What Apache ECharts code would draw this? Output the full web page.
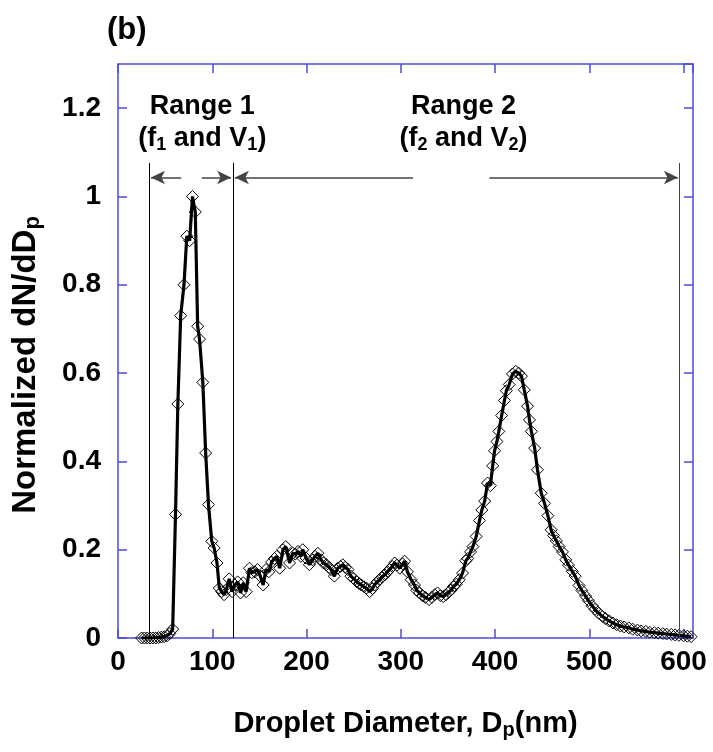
<!DOCTYPE html>
<html>
<head>
<meta charset="utf-8">
<script src="https://cdn.jsdelivr.net/npm/echarts@6/dist/echarts.min.js"></script>
<style>html,body{margin:0;padding:0;background:#fff;}#c{width:713px;height:752px;}</style>
</head>
<body>
<div id="c"></div>
<script>
// ---- data ----
const diameters = [25,28,31,34,37,40,43,46,49,52,55,58,61,63.5,66.5,70,73,76,79,82,84.5,86.5,90,93,96,99.5,102,105,107.5,110,112.5,115,118,121,124,127,130,133,136,139.5,142,145,148,151,154,157,160,163,166,168.5,171.5,175,178,182,185.5,188,191,194,196,199.5,203,206.5,209,212,215.5,218,221,224,226,229.5,233,236,238.5,241,244,247,250,253,256,258,261,263.5,267,270,272,275,277.5,280,283,286,288,291,293.5,296,299,302,304,307,311,314.5,317,320,323,326,330,333,336,339,342,345,348,351,353.5,356,359,362,365.5,369,371,374,376.5,380,383.5,386,389,392,395,397.5,399.5,402,404,407,410,412,415,418.5,422,425,428,431,434.5,436.5,438.5,442,445,449,452.5,456,459.5,462,465,468,471.5,475,478,482,485,489,492,496,499,503,506,510,514,517,521,525,529,533,537,542,546,551,555,560,564,569,573,578,582,587,591,595,600,604,608];
const dNdD = [0,0,0,0,0,0,0.001,0.002,0.003,0.005,0.01,0.02,0.28,0.53,0.73,0.80,0.91,0.90,1.0,0.965,0.706,0.677,0.579,0.419,0.302,0.219,0.204,0.17,0.113,0.105,0.098,0.11,0.134,0.105,0.12,0.127,0.102,0.125,0.105,0.158,0.148,0.15,0.155,0.14,0.12,0.155,0.15,0.172,0.18,0.185,0.158,0.2,0.207,0.17,0.192,0.19,0.196,0.185,0.2,0.181,0.166,0.177,0.185,0.192,0.177,0.17,0.166,0.16,0.155,0.14,0.158,0.162,0.166,0.16,0.155,0.14,0.135,0.128,0.123,0.12,0.116,0.113,0.105,0.112,0.12,0.127,0.132,0.138,0.143,0.15,0.155,0.162,0.17,0.165,0.158,0.168,0.174,0.15,0.132,0.12,0.108,0.102,0.096,0.092,0.087,0.092,0.098,0.102,0.096,0.094,0.098,0.104,0.109,0.117,0.122,0.132,0.147,0.175,0.18,0.195,0.207,0.23,0.266,0.29,0.31,0.351,0.345,0.39,0.424,0.445,0.468,0.504,0.538,0.56,0.574,0.598,0.604,0.6,0.593,0.562,0.525,0.494,0.468,0.43,0.381,0.328,0.305,0.277,0.245,0.232,0.22,0.207,0.195,0.177,0.165,0.151,0.14,0.119,0.108,0.095,0.085,0.073,0.065,0.056,0.049,0.044,0.039,0.034,0.03,0.027,0.025,0.023,0.02,0.018,0.016,0.015,0.013,0.012,0.011,0.01,0.009,0.008,0.007,0.006,0.005,0.004,0.003];

// range boundaries (nm) and annotation geometry in data units
const rangeBounds = [33, 122, 595];
const boundTop = 1.076;
const arrowLevel = 1.043;
const arrowSegments = [[67, 35], [89, 120], [313, 124], [394, 594]];
const rangeLabelX = [89.5, 366.5];
const rangeLabelY = 1.168;
const xTicks = {min: 0, max: 610, interval: 100};
const yTicks = {min: 0, max: 1.3, interval: 0.2};

const FONT = "'Liberation Sans', Arial, sans-serif";
const AXIS_COLOR = '#4b4bdc';

const seriesData = diameters.map((d, i) => [d, dNdD[i]]);

const vLines = rangeBounds.map((b, i) => [
  {coord: [b, 0], symbol: 'none', lineStyle: {color: i === 2 ? '#444' : '#000', width: 1, type: 'solid'}},
  {coord: [b, boundTop], symbol: 'none'}
]);
const arrows = arrowSegments.map(s => [
  {coord: [s[0], arrowLevel], lineStyle: {color: '#444', width: 1.5, type: 'solid'}},
  {coord: [s[1], arrowLevel]}
]);

const rich = {
  a: {fontFamily: FONT, fontWeight: 'bold', fontSize: 27, color: '#000', lineHeight: 32},
  s: {fontFamily: FONT, fontWeight: 'bold', fontSize: 18, color: '#000', lineHeight: 14, padding: [33, 0, 0, 0], verticalAlign: 'bottom'}
};
const rangeTexts = [
  '{a|Range 1}\n{a|(f}{s|1}{a| and V}{s|1}{a|)}',
  '{a|Range 2}\n{a|(f}{s|2}{a| and V}{s|2}{a|)}'
];

const axisCommon = {
  axisLine: {show: true, onZero: false, lineStyle: {color: AXIS_COLOR, width: 1.5}},
  axisTick: {show: true, inside: true, length: 9, lineStyle: {color: AXIS_COLOR, width: 1.5}},
  splitLine: {show: false}
};

const chart = echarts.init(document.getElementById('c'), null, {renderer: 'canvas'});
chart.setOption({
  animation: false,
  backgroundColor: '#fff',
  grid: {left: 118, right: 20, top: 64, bottom: 114, containLabel: false, outerBoundsMode: 'none'},
  xAxis: [
    Object.assign({
      type: 'value', position: 'bottom', min: xTicks.min, max: xTicks.max, interval: xTicks.interval,
      axisLabel: {show: true, margin: 10, color: '#000', fontFamily: FONT, fontWeight: 'bold', fontSize: 28, showMaxLabel: false},
      name: '{a|Droplet Diameter, D}{s|p}{a|(nm)}',
      nameLocation: 'middle', nameGap: 70,
      nameTextStyle: {rich: {
        a: {fontFamily: FONT, fontWeight: 'bold', fontSize: 29, color: '#000', lineHeight: 32},
        s: {fontFamily: FONT, fontWeight: 'bold', fontSize: 20, color: '#000', lineHeight: 14, padding: [34, 0, 0, 0], verticalAlign: 'bottom'}
      }}
    }, axisCommon),
    Object.assign({
      type: 'value', position: 'top', min: xTicks.min, max: xTicks.max, interval: xTicks.interval,
      axisLabel: {show: false}
    }, axisCommon)
  ],
  yAxis: [
    Object.assign({
      type: 'value', position: 'left', min: yTicks.min, max: yTicks.max, interval: yTicks.interval,
      axisLabel: {show: true, margin: 17, color: '#000', fontFamily: FONT, fontWeight: 'bold', fontSize: 28, showMaxLabel: false},
      name: '{a|Normalized dN/dD}{s|p}',
      nameLocation: 'middle', nameRotate: 90, nameGap: 74,
      nameTextStyle: {padding: [0, 28, 0, 0], rich: {
        a: {fontFamily: FONT, fontWeight: 'bold', fontSize: 33, color: '#000', lineHeight: 36},
        s: {fontFamily: FONT, fontWeight: 'bold', fontSize: 22, color: '#000', lineHeight: 16, padding: [38, 0, 0, 0], verticalAlign: 'bottom'}
      }}
    }, axisCommon),
    Object.assign({
      type: 'value', position: 'right', min: yTicks.min, max: yTicks.max, interval: yTicks.interval,
      axisLabel: {show: false}
    }, axisCommon)
  ],
  graphic: [{
    type: 'text', left: 107, top: 15,
    style: {text: '(b)', font: 'bold 31px ' + FONT, fill: '#000'}
  }],
  series: [{
    type: 'line',
    data: seriesData,
    xAxisIndex: 0, yAxisIndex: 0,
    lineStyle: {color: '#000', width: 3.2},
    symbol: 'diamond',
    symbolSize: [12, 12],
    showAllSymbol: true,
    itemStyle: {color: 'rgba(255,255,255,0)', borderColor: '#000', borderWidth: 1},
    z: 3,
    markLine: {
      silent: true, animation: false,
      symbol: ['none', 'arrow'], symbolSize: [10, 14],
      label: {show: false},
      data: arrows.concat(vLines)
    },
    markPoint: {
      silent: true, animation: false,
      symbol: 'rect', symbolSize: 1,
      itemStyle: {color: 'rgba(0,0,0,0)'},
      label: {show: true, position: 'inside', align: 'center', verticalAlign: 'middle', rich: rich},
      data: rangeTexts.map((t, i) => ({coord: [rangeLabelX[i], rangeLabelY], label: {formatter: t}}))
    }
  }]
});
</script>
</body>
</html>
